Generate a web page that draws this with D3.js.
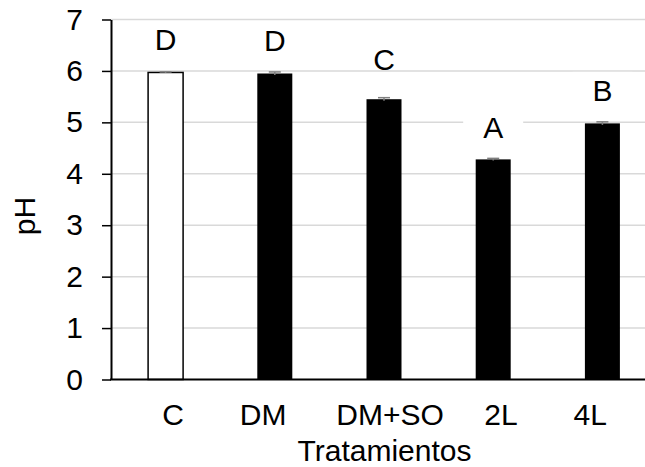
<!DOCTYPE html>
<html>
<head>
<meta charset="utf-8">
<script src="https://cdn.jsdelivr.net/npm/d3@7"></script>
<style>
  html, body { margin: 0; padding: 0; background: #fff; }
  svg { display: block; }
  text { font-family: "Liberation Sans", Arial, sans-serif; fill: #000; }
</style>
</head>
<body>
<svg id="chart" width="645" height="467"></svg>
<script>
// ---- data ----
const categories = ["C", "DM", "DM+SO", "2L", "4L"];
const phValues = [5.97, 5.95, 5.45, 4.28, 4.98];
const phErrors = [0.01, 0.03, 0.03, 0.02, 0.03];
const sigLetters = ["D", "D", "C", "A", "B"];
const barFills = ["#ffffff", "#000000", "#000000", "#000000", "#000000"];
const yTicks = [0, 1, 2, 3, 4, 5, 6, 7];
const yLabel = "pH";
const xLabel = "Tratamientos";

// ---- layout (not data) ----
const W = 645, H = 467;
const plotLeft = 111, plotTop = 19.5, plotBottom = 379.5;
const step = 109.2;
const barW = 35;
const fontSize = 30;
const letterGap = [22, 23, 29, 21, 22];
const tickLabelShift = [7.5, -11.7, 6, 7.8, -12.2];

const svg = d3.select("#chart");

const pi = 1 - barW / step;
const x = d3.scaleBand()
  .domain(categories)
  .range([plotLeft, plotLeft + step * categories.length])
  .paddingInner(pi)
  .paddingOuter(pi / 2);

const y = d3.scaleLinear().domain([0, 7]).range([plotBottom, plotTop]);

// gridlines
svg.append("g").selectAll("line")
  .data(yTicks.filter(t => t > 0))
  .join("line")
  .attr("x1", plotLeft).attr("x2", W)
  .attr("y1", d => y(d)).attr("y2", d => y(d))
  .attr("stroke", "#d9d9d9").attr("stroke-width", 1.5);

// white boxes behind significance letters
const cx = d => x(d) + x.bandwidth() / 2;
const letterBase = (d, i) => y(phValues[i]) - letterGap[i];
svg.append("g").selectAll("rect")
  .data(categories)
  .join("rect")
  .attr("x", d => cx(d) - 30)
  .attr("width", 60)
  .attr("y", (d, i) => letterBase(d, i) - 29.5)
  .attr("height", 28.5)
  .attr("fill", "#fff");

// bars
svg.append("g").selectAll("rect")
  .data(categories)
  .join("rect")
  .attr("x", d => x(d))
  .attr("width", x.bandwidth())
  .attr("y", (d, i) => y(phValues[i]))
  .attr("height", (d, i) => y(0) - y(phValues[i]))
  .attr("fill", (d, i) => barFills[i])
  .attr("stroke", (d, i) => barFills[i] === "#ffffff" ? "#000" : "none")
  .attr("stroke-width", 1.5);

// error bars
const eb = svg.append("g").attr("stroke", "#7f7f7f").attr("stroke-width", 1.5);
categories.forEach((d, i) => {
  const c = cx(d);
  const y1 = y(phValues[i] + phErrors[i]);
  const y0 = y(phValues[i] - phErrors[i]);
  eb.append("line").attr("x1", c).attr("x2", c).attr("y1", y1).attr("y2", y0);
  eb.append("line").attr("x1", c - 6).attr("x2", c + 6).attr("y1", y1).attr("y2", y1);
});

// significance letters
svg.append("g").selectAll("text")
  .data(categories)
  .join("text")
  .attr("x", d => cx(d))
  .attr("y", (d, i) => letterBase(d, i))
  .attr("text-anchor", "middle")
  .attr("font-size", fontSize)
  .text((d, i) => sigLetters[i]);

// y axis
const yAxis = svg.append("g")
  .attr("transform", `translate(${plotLeft},0)`)
  .call(d3.axisLeft(y).tickValues(yTicks).tickFormat(d3.format("d"))
    .tickSizeInner(9).tickSizeOuter(0).tickPadding(19));
yAxis.select(".domain").attr("stroke", "#000").attr("stroke-width", 2);
yAxis.selectAll(".tick line").attr("stroke", "#000").attr("stroke-width", 1.5);
yAxis.selectAll(".tick text")
  .attr("font-size", fontSize)
  .attr("font-family", '"Liberation Sans", Arial, sans-serif')
  .attr("fill", "#000");

// x baseline
svg.append("line")
  .attr("x1", plotLeft - 1).attr("x2", W)
  .attr("y1", y(0)).attr("y2", y(0))
  .attr("stroke", "#000").attr("stroke-width", 2);

// x tick labels
svg.append("g").selectAll("text")
  .data(categories)
  .join("text")
  .attr("x", (d, i) => cx(d) + tickLabelShift[i])
  .attr("y", 424.5)
  .attr("text-anchor", "middle")
  .attr("font-size", fontSize)
  .text(d => d);

// axis titles
svg.append("text")
  .attr("x", 384.5).attr("y", 460.5)
  .attr("text-anchor", "middle")
  .attr("font-size", fontSize)
  .text(xLabel);

svg.append("text")
  .attr("transform", "translate(35,216) rotate(-90)")
  .attr("text-anchor", "middle")
  .attr("font-size", fontSize)
  .text(yLabel);
</script>
</body>
</html>
